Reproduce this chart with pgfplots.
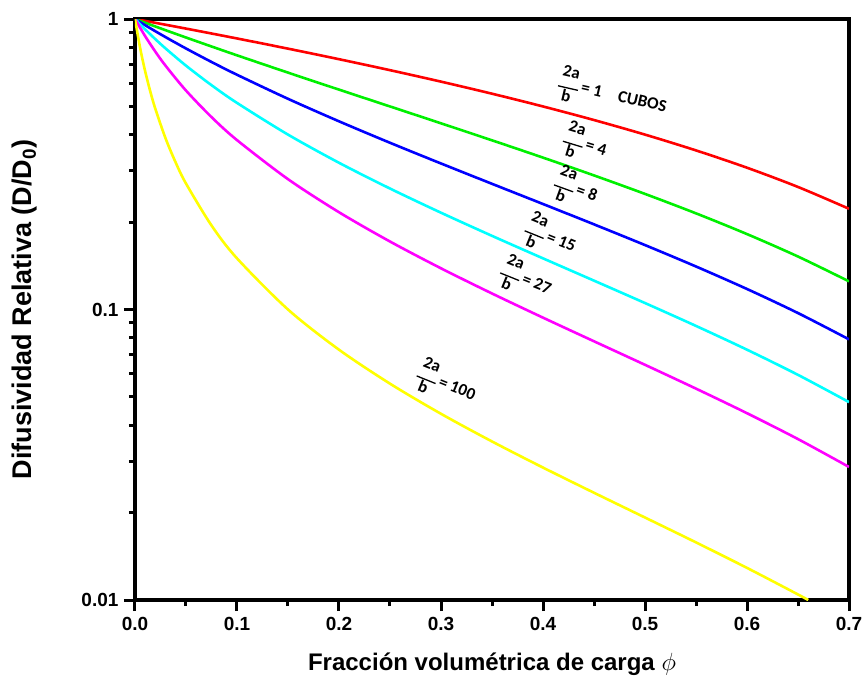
\documentclass[border=0pt]{standalone}
\usepackage{pgfplots}
\pgfplotsset{compat=1.18}
\usepackage{fontspec}
\setmainfont{Liberation Sans}
\newfontfamily\lbl{Carlito}
\definecolor{rd}{RGB}{255,0,0}
\definecolor{gr}{RGB}{0,240,0}
\definecolor{bl}{RGB}{0,0,255}
\definecolor{cy}{RGB}{0,255,255}
\definecolor{mg}{RGB}{255,0,255}
\definecolor{yl}{RGB}{255,255,0}
\newcommand\lf{\lbl\bfseries\fontsize{17}{19}\selectfont}
\newcommand\fr{\begin{tabular}{@{}c@{}}\lf 2a\\[-3pt]\rule[4pt]{1.2em}{1.3pt}\\[-10pt]\lf b\end{tabular}}
\newcommand\cl[1]{\lf\fr\,#1}
\begin{document}
\begin{tikzpicture}
\useasboundingbox (-135pt,-89pt) rectangle (729pt,600pt);
\begin{axis}[
 at={(0,0)}, anchor=south west,
 width=714pt, height=581pt, scale only axis,
 ymode=log, xmin=0, xmax=0.7, ymin=0.01, ymax=1,
 separate axis lines,
 every outer x axis line/.append style={line width=3.4pt, line cap=rect},
 every outer y axis line/.append style={line width=3.4pt, line cap=rect},
 axis line style={line width=3.4pt},
 tick style={line width=3pt, black},
 major tick length=11pt, minor tick length=6pt,
 tick align=outside,
 xtick pos=left, ytick pos=left,
 xtick={0,0.1,0.2,0.3,0.4,0.5,0.6,0.7},
 xticklabels={0.0,0.1,0.2,0.3,0.4,0.5,0.6,0.7},
 minor x tick num=1,
 ytick={0.01,0.1,1}, yticklabels={0.01,0.1,1},
 ticklabel style={font=\bfseries\fontsize{19}{19}\selectfont},
 yticklabel style={xshift=-2pt},
 xticklabel style={yshift=-3pt},
 xlabel={Fracción volumétrica de carga $\phi$},
 ylabel={Difusividad Relativa (D/D\textsubscript{0})},
 xlabel style={font=\bfseries\fontsize{24}{24}\selectfont, at={(axis description cs:0.5,-0.110)}, anchor=center},
 ylabel style={font=\bfseries\fontsize{27}{27}\selectfont, at={(axis description cs:-0.155,0.5)}, anchor=center, rotate=0},
 every axis plot/.append style={line width=2.6pt, no marks, smooth},
]
\addplot[color=rd] coordinates {
(0,1) (0.05,0.92683) (0.1,0.85714) (0.15,0.79070) (0.2,0.72727) (0.25,0.66667)
(0.3,0.60870) (0.35,0.55319) (0.4,0.5) (0.45,0.44898) (0.5,0.4) (0.55,0.35294)
(0.6,0.30769) (0.65,0.26415) (0.7,0.22222)};
\addplot[color=gr] coordinates {
(0,1) (0.01,0.97059) (0.02,0.94231) (0.03,0.91509) (0.05,0.86364) (0.075,0.80435)
(0.1,0.75) (0.15,0.65385) (0.2,0.57143) (0.25,0.5) (0.3,0.4375) (0.35,0.38235)
(0.4,0.33333) (0.45,0.28947) (0.5,0.25) (0.55,0.21429) (0.6,0.18182) (0.65,0.15217) (0.7,0.125)};
\addplot[color=bl] coordinates {
(0,1) (0.01,0.95192) (0.02,0.90741) (0.03,0.86607) (0.05,0.79167) (0.075,0.71154)
(0.1,0.64286) (0.15,0.53125) (0.2,0.44444) (0.25,0.375) (0.3,0.31818) (0.35,0.27083)
(0.4,0.23077) (0.45,0.19643) (0.5,0.16667) (0.55,0.14063) (0.6,0.11765) (0.65,0.09722) (0.7,0.07895)};
\addplot[color=cy] coordinates {
(0,1) (0.01,0.92093) (0.02,0.85217) (0.03,0.79184) (0.05,0.69091) (0.075,0.592)
(0.1,0.51429) (0.15,0.4) (0.2,0.32) (0.25,0.26087) (0.3,0.21538) (0.35,0.17931)
(0.4,0.15) (0.45,0.12571) (0.5,0.10526) (0.55,0.08780) (0.6,0.07273) (0.65,0.05957) (0.7,0.048)};
\addplot[color=mg] coordinates {
(0,1) (0.01,0.87225) (0.02,0.77165) (0.03,0.69039) (0.05,0.56716) (0.075,0.45963)
(0.1,0.38298) (0.15,0.28099) (0.2,0.21622) (0.25,0.17143) (0.3,0.13861) (0.35,0.11354)
(0.4,0.09375) (0.45,0.07774) (0.5,0.06452) (0.55,0.05341) (0.6,0.04396) (0.65,0.03581) (0.7,0.02871)};
\addplot[color=yl] coordinates {
(0,1) (0.005,0.796) (0.01,0.66) (0.015,0.56286) (0.02,0.49) (0.03,0.388) (0.04,0.32)
(0.05,0.27143) (0.075,0.19474) (0.1,0.15) (0.15,0.1) (0.2,0.07273) (0.25,0.05556)
(0.3,0.04375) (0.35,0.03514) (0.4,0.02857) (0.45,0.02340) (0.5,0.01923) (0.55,0.01579)
(0.6,0.01290) (0.65,0.01045) (0.66,0.01)};
\begin{scope}[every node/.style={inner sep=0pt}]
\node[rotate=-13] at (axis cs:0.468,0.545) {\cl{= 1\quad CUBOS}};
\node[rotate=-17] at (axis cs:0.441,0.368) {\cl{= 4}};
\node[rotate=-20] at (axis cs:0.432,0.258) {\cl{= 8}};
\node[rotate=-22] at (axis cs:0.407,0.176) {\cl{= 15}};
\node[rotate=-22] at (axis cs:0.383,0.126) {\cl{= 27}};
\node[rotate=-22] at (axis cs:0.305,0.055) {\cl{= 100}};
\end{scope}
\end{axis}
\end{tikzpicture}
\end{document}
